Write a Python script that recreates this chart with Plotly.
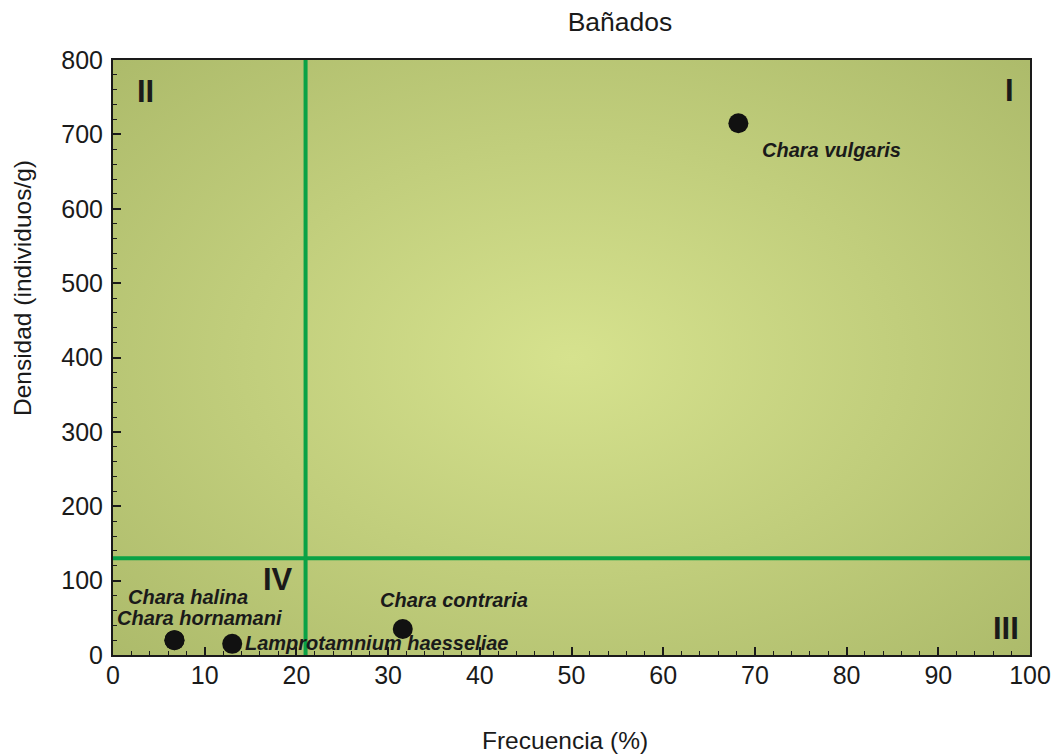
import base64
import plotly.graph_objects as go

# ---- data ----
species = ["Chara vulgaris", "Chara contraria", "Chara halina", "Chara hornamani", "Lamprotamnium haesseliae"]
frecuencia = [68.2, 31.6, 6.7, 6.7, 13.0]
densidad = [715, 35, 20, 20, 15]

freq_threshold = 21
dens_threshold = 130

quadrant_labels = ["I", "II", "III", "IV"]
quadrant_x = [97.8, 3.5, 97.4, 18.0]
quadrant_y = [759, 758, 36, 101]

x_ticks = list(range(0, 101, 10))
y_ticks = list(range(0, 801, 100))

# label offsets (pixels) for species labels (left-anchored)
label_xshift = [22, -25, -48, -59, 11]
label_yshift = [-27, 29, 43, 22, 1]

# ---- background gradient (decorative) ----
svg = ('<svg xmlns="http://www.w3.org/2000/svg" width="917" height="595" preserveAspectRatio="none">'
       '<defs><radialGradient id="g" cx="50%" cy="50%" r="72%">'
       '<stop offset="0" stop-color="rgb(214,226,142)"/>'
       '<stop offset="1" stop-color="rgb(172,186,106)"/>'
       '</radialGradient></defs>'
       '<rect width="100%" height="100%" fill="url(#g)"/></svg>')
src = "data:image/svg+xml;base64," + base64.b64encode(svg.encode()).decode()

fig = go.Figure()
fig.add_trace(go.Scatter(
    x=frecuencia, y=densidad, mode="markers",
    marker=dict(size=20, color="#111111"),
    showlegend=False, hoverinfo="skip", cliponaxis=False,
))

line_color = "rgb(10,162,70)"
fig.add_shape(type="line", xref="x", yref="paper", x0=freq_threshold, x1=freq_threshold, y0=0, y1=1,
              line=dict(color=line_color, width=4))
fig.add_shape(type="line", xref="paper", yref="y", x0=0, x1=1, y0=dens_threshold, y1=dens_threshold,
              line=dict(color=line_color, width=4))

for s, fx, dy, xs, ys in zip(species, frecuencia, densidad, label_xshift, label_yshift):
    fig.add_annotation(x=fx, y=dy, text="<b><i>" + s + "</i></b>", showarrow=False,
                       xshift=xs, yshift=ys, xanchor="left", yanchor="middle",
                       font=dict(family="Liberation Sans, Arial", size=20, color="#1a1a1a"))

for q, qx, qy in zip(quadrant_labels, quadrant_x, quadrant_y):
    fig.add_annotation(x=qx, y=qy, text="<b>" + q + "</b>", showarrow=False,
                       font=dict(family="Liberation Sans, Arial", size=31, color="#1a1a1a"))

fig.add_layout_image(dict(source=src, xref="paper", yref="paper", x=0, y=1, sizex=1, sizey=1,
                          sizing="stretch", xanchor="left", yanchor="top", layer="below"))

font_main = dict(family="Liberation Sans, Arial", size=25, color="#1a1a1a")
font_axis = dict(family="Liberation Sans, Arial", size=24.5, color="#1a1a1a")

# axis titles as annotations for exact placement
fig.add_annotation(text="Frecuencia (%)", xref="paper", yref="paper", x=0.4929, y=-0.1429,
                   xanchor="center", yanchor="middle", showarrow=False, font=font_axis)
fig.add_annotation(text="Densidad (individuos/g)", xref="paper", yref="paper", x=-0.0987, y=0.6176,
                   xanchor="center", yanchor="middle", showarrow=False, textangle=-90, font=font_axis)

fig.update_layout(
    width=1056, height=755,
    margin=dict(l=113, r=26, t=60, b=100, autoexpand=False),
    paper_bgcolor="white", plot_bgcolor="rgba(0,0,0,0)",
    font=font_main,
    title=dict(text="Bañados", x=620 / 1056, xref="container", xanchor="center",
               y=1 - 22 / 755, yref="container", yanchor="middle",
               font=dict(family="Liberation Sans, Arial", size=26.5, color="#1a1a1a"),
               automargin=False),
    xaxis=dict(range=[0, 100], tickvals=x_ticks, ticks="inside", ticklen=8, tickwidth=1.5,
               tickcolor="#1a1a1a", showline=True, linecolor="#1a1a1a", linewidth=2, mirror=True,
               showgrid=False, zeroline=False, ticklabelstandoff=-3, automargin=False,
               minor=dict(dtick=2, ticks="inside", ticklen=4, tickcolor="#1a1a1a", tickwidth=1.2),
               tickfont=font_main),
    yaxis=dict(range=[0, 800], tickvals=y_ticks, ticks="inside", ticklen=8, tickwidth=1.5,
               tickcolor="#1a1a1a", showline=True, linecolor="#1a1a1a", linewidth=2, mirror=True,
               showgrid=False, zeroline=False, ticklabelstandoff=3, automargin=False,
               minor=dict(dtick=20, ticks="inside", ticklen=4, tickcolor="#1a1a1a", tickwidth=1.2),
               tickfont=font_main),
)

fig.write_html("out.html", config={"displayModeBar": False},
               post_script="document.body.style.margin='0';document.body.style.overflow='hidden';")
